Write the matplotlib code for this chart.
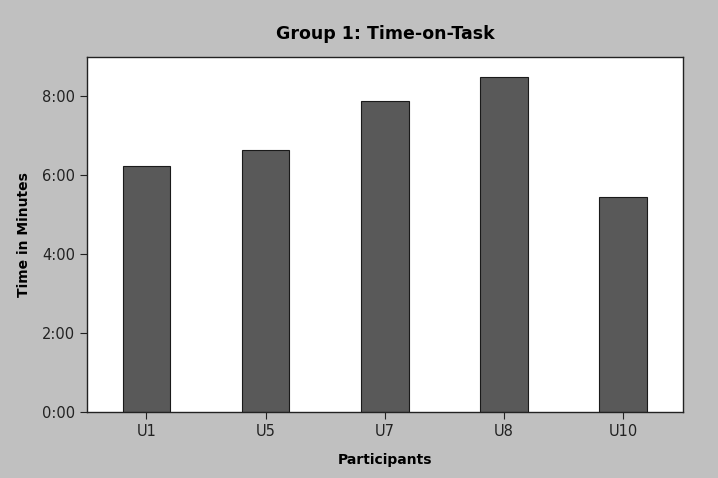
import matplotlib
matplotlib.use("Agg")
import matplotlib.pyplot as plt
from matplotlib.ticker import FuncFormatter, FixedLocator

participants = ["U1", "U5", "U7", "U8", "U10"]
minutes = [6.23, 6.63, 7.87, 8.50, 5.45]
yticks = [0, 2, 4, 6, 8]

plt.rcParams['font.family'] = ['DejaVu Sans']

fig = plt.figure(figsize=(7.18, 4.78), dpi=100, facecolor="#c0c0c0")
ax = fig.add_axes([0.121, 0.138, 0.830, 0.743])
ax.set_facecolor("white")

x = list(range(len(participants)))
ax.bar(x, minutes, width=0.4, color="#595959", edgecolor="#1a1a1a", linewidth=0.8)

ax.set_xlim(-0.5, 4.5)
ax.set_ylim(0, 9)
ax.set_xticks(x)
ax.set_xticklabels(participants)
ax.yaxis.set_major_locator(FixedLocator(yticks))
ax.yaxis.set_major_formatter(FuncFormatter(lambda v, p: f"{int(v)}:00"))

ax.tick_params(axis="both", direction="out", length=5, width=0.8, labelsize=10.5, colors="#222222")
for s in ax.spines.values():
    s.set_linewidth(1.0)
    s.set_color("#222222")

ax.set_title("Group 1: Time-on-Task", fontsize=12.5, fontweight="bold", pad=13)
ax.set_xlabel("Participants", fontsize=10, fontweight="bold", labelpad=10)
ax.set_ylabel("Time in Minutes", fontsize=10, fontweight="bold", labelpad=8)

fig.savefig("out.png", dpi=100, facecolor=fig.get_facecolor())
